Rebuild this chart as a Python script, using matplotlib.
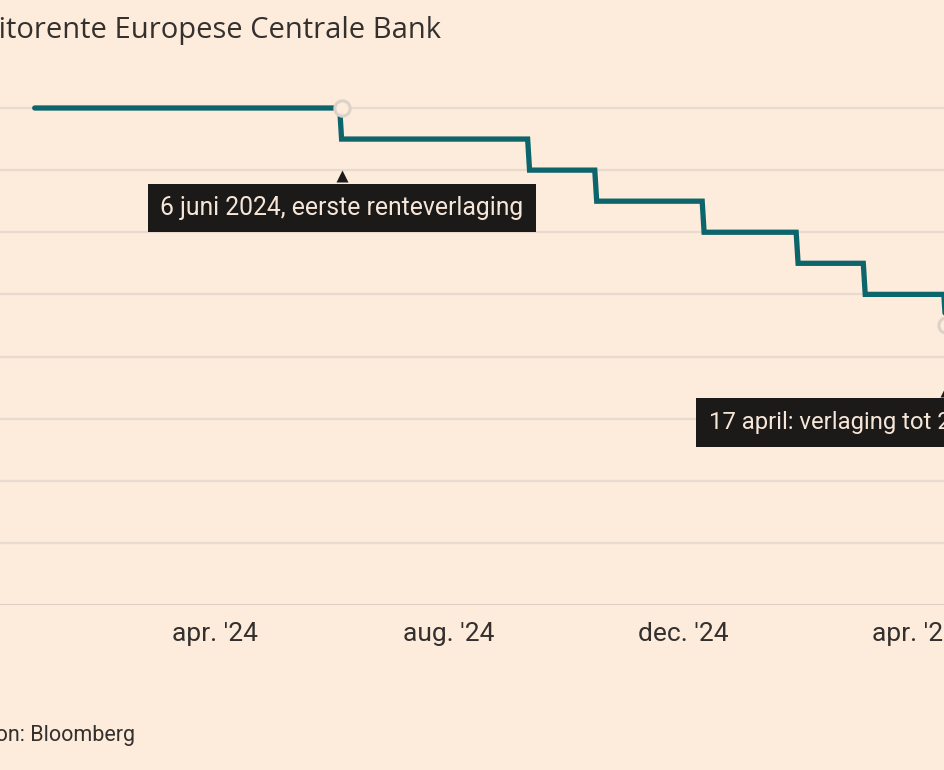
import matplotlib.pyplot as plt
import matplotlib.dates as mdates
import matplotlib.transforms as mtransforms
import numpy as np
from datetime import date, timedelta

# Depositorente ECB, stappen op de besluitdata
datums = [date(2023, 12, 29), date(2024, 6, 6), date(2024, 9, 12), date(2024, 10, 17),
          date(2024, 12, 12), date(2025, 1, 30), date(2025, 3, 6), date(2025, 4, 17)]
rente = [4.00, 3.75, 3.50, 3.25, 3.00, 2.75, 2.50, 2.25]
eind_datum = date(2025, 5, 15)

tick_datums = [date(2024, 4, 1), date(2024, 8, 1), date(2024, 12, 1), date(2025, 4, 1)]
tick_labels = ["apr. '24", "aug. '24", "dec. '24", "apr. '25"]

titel = "Depositorente Europese Centrale Bank"
bron = "Bron: Bloomberg"
notitie_1 = "6 juni 2024, eerste renteverlaging"
notitie_2 = "17 april: verlaging tot 2,25%"

bg = '#fdebdc'
teal = '#0d656c'
grid = '#e7dacf'
doos = '#1c1a19'
doos_tekst = '#f6e6d8'
fam = ['Roboto', 'DejaVu Sans']

# reeks opbouwen: oude stand op de dag voor het besluit, nieuwe stand op de dag zelf
xs = [datums[0]]
ys = [rente[0]]
for i in range(1, len(datums)):
    xs += [datums[i] - timedelta(days=1), datums[i]]
    ys += [rente[i - 1], rente[i]]
xs.append(eind_datum)
ys.append(rente[-1])

fig = plt.figure(figsize=(9.45, 7.7), dpi=100)
fig.patch.set_facecolor(bg)

# as loopt buiten het beeld door (uitsnede van de originele grafiek)
W, H = 945, 770
px_per_dag = 234 / 122
x_links_px, x_rechts_px = -120, 1150
ref = mdates.date2num(date(2024, 4, 1))
xmin = ref + (x_links_px - 215) / px_per_dag
xmax = ref + (x_rechts_px - 215) / px_per_dag
px_per_eenheid = (605 - 108) / 4.0
ytop = 4.2
ax = fig.add_axes([x_links_px / W, (H - 605) / H,
                   (x_rechts_px - x_links_px) / W, ytop * px_per_eenheid / H])
ax.set_facecolor(bg)
ax.set_xlim(xmin, xmax)
ax.set_ylim(0, ytop)

for v in np.arange(0.5, 4.01, 0.5):
    ax.axhline(v, color=grid, lw=1.6, zorder=1)
ax.axhline(0, color='#dccec2', lw=2.2, zorder=1)

ax.plot(mdates.date2num(xs), ys, color=teal, lw=3.8, solid_capstyle='round',
        solid_joinstyle='miter', zorder=3)

# markers bij de twee besluiten
m_x = [datums[1], datums[-1]]
m_y = [rente[0], rente[-1]]
ax.plot(mdates.date2num(m_x), m_y, 'o', ms=11, mfc=bg, mec='#dcd2c9', mew=2.2, zorder=4)

for s in ax.spines.values():
    s.set_visible(False)
ax.set_yticks([])
ax.set_xticks(mdates.date2num(tick_datums))
ax.set_xticklabels(tick_labels, family=fam)
ax.tick_params(axis='x', length=0, pad=12, labelsize=19, labelcolor='#33302e')

# notities
fs = 17.8
ax.annotate(notitie_1, xy=(mdates.date2num(datums[1]), rente[0]), xytext=(0, -100),
            textcoords='offset pixels', ha='center', va='center', fontsize=fs,
            color=doos_tekst, family=fam, zorder=6,
            bbox=dict(boxstyle='square,pad=0.5', fc=doos, ec='none'))
ax.annotate(notitie_2, xy=(mdates.date2num(datums[-1]), rente[-1]), xytext=(-237, -97),
            textcoords='offset pixels', ha='left', va='center', fontsize=fs - 0.6,
            color=doos_tekst, family=fam, zorder=6,
            bbox=dict(boxstyle='square,pad=0.55', fc=doos, ec='none'))

# puntjes van de notities
for d, v, dy in [(datums[1], rente[0], -68), (datums[-1], rente[-1], -66)]:
    tr = mtransforms.offset_copy(ax.transData, fig=fig, x=0, y=dy / 100 * 72, units='points')
    ax.plot(mdates.date2num(d), v, marker='^', ms=9, color=doos, mec='none',
            transform=tr, zorder=6, clip_on=False)

fig.text(441 / W, 1 - 38 / H, titel, ha='right', va='baseline', fontsize=20.95,
         color='#33302e', family=['Open Sans', 'Roboto', 'DejaVu Sans'])
fig.text(135 / W, 1 - 741 / H, bron, ha='right', va='baseline', fontsize=15.5,
         color='#33302e', family=fam)

fig.savefig('out.png', dpi=100, facecolor=bg)
